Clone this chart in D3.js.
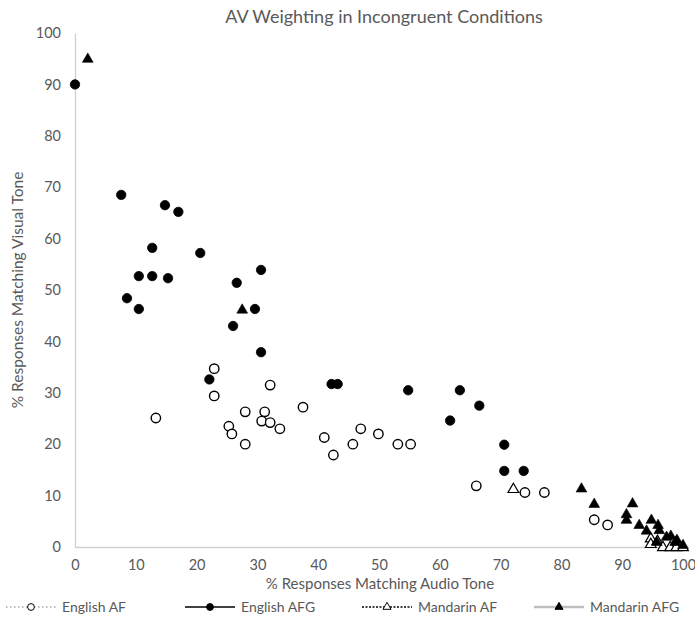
<!DOCTYPE html>
<html>
<head>
<meta charset="utf-8">
<script src="https://cdn.jsdelivr.net/npm/d3@7"></script>
<style>
  body { margin: 0; background: #fff; }
  #chart { width: 695px; height: 630px; }
  text { font-family: Lato, "Open Sans", sans-serif; fill: #595959; }
</style>
</head>
<body>
<div id="chart"></div>
<script>
// Size of the page
var width = 695;
var height = 630;

// English AF (open circles): [audio %, visual %]
var englishAF = [
    [13.3, 25.1], [22.9, 34.7], [22.9, 29.4], [32.1, 31.5], [28, 26.3],
    [31.2, 26.3], [30.7, 24.5], [32.1, 24.2], [33.7, 23], [25.3, 23.5],
    [25.8, 22], [28, 20], [37.5, 27.2], [41, 21.3], [42.5, 17.9],
    [45.7, 20], [47, 23], [49.9, 22], [53.1, 20], [55.2, 20],
    [66, 11.9], [74, 10.6], [77.2, 10.6], [85.4, 5.3], [87.6, 4.3]
];

// English AFG (filled circles)
var englishAFG = [
    [0, 90], [7.6, 68.5], [14.8, 66.5], [17, 65.2], [12.7, 58.2],
    [20.6, 57.2], [10.5, 52.7], [12.7, 52.7], [15.3, 52.3], [30.6, 53.9],
    [26.6, 51.4], [8.55, 48.4], [10.5, 46.3], [29.6, 46.3], [26, 43],
    [30.6, 37.9], [22.1, 32.6], [42.2, 31.7], [43.2, 31.7], [54.8, 30.5],
    [63.3, 30.5], [66.5, 27.5], [61.7, 24.6], [70.6, 19.9], [70.6, 14.8],
    [73.8, 14.8]
];

// Mandarin AF (open triangles)
var mandarinAF = [
    [72.1, 11.3], [94.7, 1.7], [94.7, 0.6], [95.8, 1.2], [96.7, 0],
    [97.9, 0], [98.9, 0], [100, 0]
];

// Mandarin AFG (filled triangles)
var mandarinAFG = [
    [2.1, 95], [27.5, 46.2], [83.3, 11.4], [85.4, 8.4], [91.7, 8.5],
    [90.7, 6.4], [90.7, 5.3], [92.8, 4.3], [94.8, 5.3], [95.9, 4.3],
    [94, 3.2], [96.1, 3.3], [97.3, 2], [98, 2.2], [99, 1.4],
    [100, 0.4], [98.7, 1], [95.7, 1]
];

// Axis ticks
var xTicks = [0, 10, 20, 30, 40, 50, 60, 70, 80, 90, 100];
var yTicks = [0, 10, 20, 30, 40, 50, 60, 70, 80, 90, 100];

// Legend names
var seriesNames = ["English AF", "English AFG", "Mandarin AF", "Mandarin AFG"];

// Plot area
var margin = { left: 75, right: 12, top: 33, bottom: 83 };

var svg = d3.select("#chart")
    .append("svg")
    .attr("width", width)
    .attr("height", height);

var x = d3.scaleLinear()
    .domain([0, 100])
    .range([margin.left, width - margin.right]);

var y = d3.scaleLinear()
    .domain([0, 100])
    .range([height - margin.bottom, margin.top]);

// Title
svg.append("text")
    .attr("x", 384)
    .attr("y", 23)
    .attr("text-anchor", "middle")
    .style("font-size", "18px")
    .text("AV Weighting in Incongruent Conditions");

// Axes
var xAxis = svg.append("g")
    .attr("transform", "translate(0," + y(0) + ")")
    .call(d3.axisBottom(x).tickValues(xTicks).tickSize(0).tickPadding(13));

var yAxis = svg.append("g")
    .attr("transform", "translate(" + x(0) + ",0)")
    .call(d3.axisLeft(y).tickValues(yTicks).tickSize(0).tickPadding(14));

[xAxis, yAxis].forEach(function(ax) {
    ax.select(".domain").attr("stroke", "#cfcfcf").attr("stroke-width", 1.3);
    ax.selectAll("text")
        .style("font-size", "14.5px")
        .style("font-family", "Lato, sans-serif")
        .attr("fill", "#595959");
});

// Axis titles
svg.append("text")
    .attr("x", 380)
    .attr("y", 589)
    .attr("text-anchor", "middle")
    .style("font-size", "15px")
    .text("% Responses Matching Audio Tone");

svg.append("text")
    .attr("transform", "translate(23," + y(50) + ") rotate(-90)")
    .attr("text-anchor", "middle")
    .style("font-size", "15.5px")
    .text("% Responses Matching Visual Tone");

var circleR = 4.7;
var triSym = d3.symbol().type(d3.symbolTriangle).size(50);

// Draw a set of points with a marker type
function drawSeries(data, kind) {
    var g = svg.append("g");
    if (kind === "openCircle" || kind === "filledCircle") {
        g.selectAll("circle")
            .data(data)
            .enter()
            .append("circle")
            .attr("cx", function(d) { return x(d[0]); })
            .attr("cy", function(d) { return y(d[1]); })
            .attr("r", circleR)
            .attr("fill", kind === "openCircle" ? "#fff" : "#000")
            .attr("stroke", "#000")
            .attr("stroke-width", kind === "openCircle" ? 1.4 : 0.8);
    } else {
        g.selectAll("path")
            .data(data)
            .enter()
            .append("path")
            .attr("d", triSym)
            .attr("transform", function(d) { return "translate(" + x(d[0]) + "," + (y(d[1]) + 0.5) + ")"; })
            .attr("fill", kind === "openTri" ? "#fff" : "#000")
            .attr("stroke", "#000")
            .attr("stroke-width", kind === "openTri" ? 1.2 : 0.6);
    }
}

drawSeries(englishAF, "openCircle");
drawSeries(englishAFG, "filledCircle");
drawSeries(mandarinAF, "openTri");
drawSeries(mandarinAFG, "filledTri");

// Legend
var legendY = 607;
var legendItems = [
    { name: seriesNames[0], x0: 6, kind: "openCircle", stroke: "#a6a6a6", dash: "1.5,2.5", sw: 1.3 },
    { name: seriesNames[1], x0: 185, kind: "filledCircle", stroke: "#404040", dash: null, sw: 1.8 },
    { name: seriesNames[2], x0: 362, kind: "openTri", stroke: "#000", dash: "2,1.5", sw: 1.6 },
    { name: seriesNames[3], x0: 534, kind: "filledTri", stroke: "#bfbfbf", dash: null, sw: 2.5 }
];

var legend = svg.append("g");

legendItems.forEach(function(item) {
    var g = legend.append("g");
    g.append("line")
        .attr("x1", item.x0)
        .attr("x2", item.x0 + 50)
        .attr("y1", legendY)
        .attr("y2", legendY)
        .attr("stroke", item.stroke)
        .attr("stroke-width", item.sw)
        .attr("stroke-dasharray", item.dash);
    var cx = item.x0 + 25;
    if (item.kind === "openCircle" || item.kind === "filledCircle") {
        g.append("circle")
            .attr("cx", cx)
            .attr("cy", legendY)
            .attr("r", 3.4)
            .attr("fill", item.kind === "openCircle" ? "#fff" : "#000")
            .attr("stroke", "#000")
            .attr("stroke-width", 1);
    } else {
        g.append("path")
            .attr("d", d3.symbol().type(d3.symbolTriangle).size(28))
            .attr("transform", "translate(" + cx + "," + legendY + ")")
            .attr("fill", item.kind === "openTri" ? "#fff" : "#000")
            .attr("stroke", "#000")
            .attr("stroke-width", 1);
    }
    g.append("text")
        .attr("x", item.x0 + 56)
        .attr("y", legendY + 5)
        .style("font-size", "14px")
        .text(item.name);
});
</script>
</body>
</html>
